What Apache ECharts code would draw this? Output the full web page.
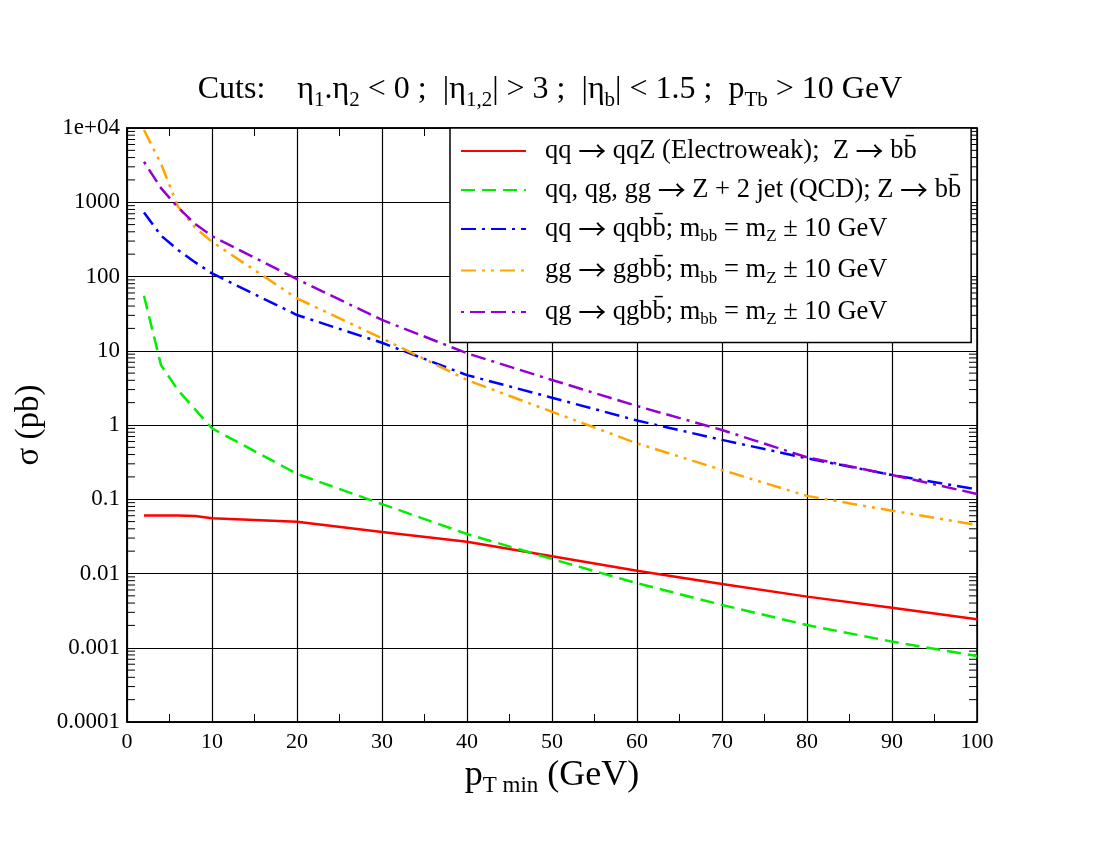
<!DOCTYPE html>
<html><head><meta charset="utf-8">
<script src="https://cdn.jsdelivr.net/npm/echarts@6/dist/echarts.min.js"></script>
<style>html,body{margin:0;padding:0;background:#fff}#c{width:1100px;height:850px}</style>
</head><body><div id="c"></div>
<script>
// ---- data ----
const ptMin = [2, 4, 6, 8, 10, 20, 30, 40, 50, 60, 70, 80, 90, 100];
const ewZbb   = [0.0605, 0.0604, 0.0602, 0.0594, 0.0553, 0.0499, 0.0362, 0.0267, 0.0171, 0.0109, 0.00723, 0.00488, 0.00346, 0.00242];
const qcdZbb  = [55, 6.4, 2.95, 1.63, 0.9, 0.22, 0.086, 0.034, 0.0157, 0.0074, 0.00377, 0.00202, 0.00121, 0.000775];
const qqQqbb  = [730, 355, 228, 156, 110, 30.3, 12.8, 4.7, 2.33, 1.15, 0.63, 0.356, 0.212, 0.136];
const ggGgbb  = [9400, 3300, 875, 458, 293, 50.8, 14.7, 4.04, 1.51, 0.566, 0.248, 0.111, 0.070, 0.045];
const qgQgbb  = [3510, 1550, 850, 513, 350, 92, 26, 9.25, 4.04, 1.80, 0.857, 0.367, 0.212, 0.118];

const seriesNames = [
  'qq → qqZ (Electroweak);  Z → bb̄',
  'qq, qg, gg → Z + 2 jet (QCD); Z → bb̄',
  'qq → qqbb̄; mbb = mZ ± 10 GeV',
  'gg → ggbb̄; mbb = mZ ± 10 GeV',
  'qg → qgbb̄; mbb = mZ ± 10 GeV'
];
const legendRich = [
  '{g|}{n|qq }{a|→}{n| qqZ (Electroweak);  Z }{a|→}{n| bb\u0304}',
  '{g|}{n|qq, qg, gg }{a|→}{n| Z + 2 jet (QCD); Z }{a|→}{n| bb\u0304}',
  '{g|}{n|qq }{a|→}{n| qqbb\u0304; m}{s|bb}{n| = m}{s|Z}{n| ± 10 GeV}',
  '{g|}{n|gg }{a|→}{n| ggbb\u0304; m}{s|bb}{n| = m}{s|Z}{n| ± 10 GeV}',
  '{g|}{n|qg }{a|→}{n| qgbb\u0304; m}{s|bb}{n| = m}{s|Z}{n| ± 10 GeV}'
];
const seriesColors = ['#ff0000', '#00ee00', '#0000ff', '#ffa500', '#9400d3'];
const seriesDash = ['solid', [14, 7], [15, 6, 3, 6], [15, 6, 3, 6, 3, 6], [3, 6, 15, 6, 15, 6]];
const seriesValues = [ewZbb, qcdZbb, qqQqbb, ggGgbb, qgQgbb];

const yTickLabels = ['0.0001', '0.001', '0.01', '0.1', '1', '10', '100', '1000', '1e+04'];
const yDecades = [-4, -3, -2, -1, 0, 1, 2, 3, 4];
const minorMultipliers = [2, 3, 4, 5, 6, 7, 8, 9];

// minor log tick positions (axis decoration)
const yMinorTicks = [];
yDecades.slice(0, -1).forEach(d => minorMultipliers.forEach(m => yMinorTicks.push([0, m * Math.pow(10, d)])));

const FONT = 'Liberation Serif';
const ARROWFONT = 'Noto Sans CJK SC';

const series = seriesValues.map((vals, i) => ({
  name: seriesNames[i],
  type: 'line',
  data: ptMin.map((x, j) => [x, vals[j]]),
  showSymbol: false,
  symbol: 'none',
  smooth: false,
  z: 5 + i,
  lineStyle: { color: seriesColors[i], width: 2.5, type: seriesDash[i] },
  itemStyle: { color: seriesColors[i] }
}));

series.push({
  name: 'minorTicks',
  type: 'custom',
  data: yMinorTicks,
  silent: true,
  z: 3,
  renderItem: function (params, api) {
    const cs = params.coordSys;
    const p = api.coord([0, api.value(1)]);
    const y = p[1];
    const len = 8;
    return {
      type: 'group',
      children: [
        { type: 'line', shape: { x1: cs.x, y1: y, x2: cs.x + len, y2: y }, style: { stroke: '#000', lineWidth: 1 } },
        { type: 'line', shape: { x1: cs.x + cs.width - len, y1: y, x2: cs.x + cs.width, y2: y }, style: { stroke: '#000', lineWidth: 1 } }
      ]
    };
  }
});

const chart = echarts.init(document.getElementById('c'), null, { renderer: 'canvas' });
chart.setOption({
  animation: false,
  backgroundColor: '#fff',
  textStyle: { fontFamily: FONT, color: '#000' },
  title: {
    left: 'center',
    top: 64,
    text: '{n|Cuts:    η}{s|1}{n|.η}{s|2}{n| < 0 ;  |η}{s|1,2}{n|| > 3 ;  |η}{s|b}{n|| < 1.5 ;  p}{s|Tb}{n| > 10 GeV}',
    textStyle: {
      fontWeight: 'normal',
      rich: {
        n: { fontFamily: FONT, fontSize: 32, fontWeight: 'normal', color: '#000', lineHeight: 42, verticalAlign: 'middle' },
        s: { fontFamily: FONT, fontSize: 21, fontWeight: 'normal', color: '#000', lineHeight: 42, verticalAlign: 'bottom' }
      }
    }
  },
  legend: {
    data: seriesNames,
    orient: 'vertical',
    left: 450,
    top: 128,
    itemWidth: 65,
    itemHeight: 14,
    itemGap: 11,
    padding: [9, 10, 14, 10],
    backgroundColor: '#fff',
    borderColor: '#000',
    borderWidth: 1.5,
    borderRadius: 0,
    z: 20,
    selectedMode: false,
    itemStyle: { opacity: 0, borderWidth: 0 },
    formatter: name => legendRich[seriesNames.indexOf(name)],
    textStyle: {
      rich: {
        g: { width: 14 },
        n: { fontFamily: FONT, fontSize: 26.5, color: '#000', lineHeight: 33, verticalAlign: 'middle' },
        a: { fontFamily: ARROWFONT, fontSize: 28, color: '#000', lineHeight: 33, verticalAlign: 'middle' },
        s: { fontFamily: FONT, fontSize: 17, color: '#000', lineHeight: 33, verticalAlign: 'bottom' }
      }
    }
  },
  grid: {
    left: 127, top: 128, width: 850, height: 594,
    show: true, borderColor: '#000', borderWidth: 1.5, backgroundColor: 'transparent'
  },
  xAxis: [{
    type: 'value', min: 0, max: 100, interval: 10,
    name: '{n|p}{s|T min}{n| (GeV)}',
    nameLocation: 'middle', nameGap: 28,
    nameTextStyle: {
      rich: {
        n: { fontFamily: FONT, fontSize: 36, color: '#000', lineHeight: 44, verticalAlign: 'middle' },
        s: { fontFamily: FONT, fontSize: 23, color: '#000', lineHeight: 44, verticalAlign: 'bottom' }
      }
    },
    axisLine: { show: true, lineStyle: { color: '#000', width: 1.5 } },
    axisTick: { show: true, inside: true, length: 8, lineStyle: { color: '#000' } },
    minorTick: { show: true, splitNumber: 2, length: 8, lineStyle: { color: '#000', width: 1 } },
    axisLabel: { fontFamily: FONT, fontSize: 22, color: '#000', margin: 9 },
    splitLine: { show: true, lineStyle: { color: '#000', width: 1.2 } }
  }, {
    type: 'value', min: 0, max: 100, interval: 10, position: 'top',
    axisLine: { show: true, lineStyle: { color: '#000', width: 1.5 } },
    axisTick: { show: true, inside: true, length: 8, lineStyle: { color: '#000' } },
    minorTick: { show: true, splitNumber: 2, length: 8, lineStyle: { color: '#000', width: 1 } },
    axisLabel: { show: false },
    splitLine: { show: false }
  }],
  yAxis: [{
    type: 'log', logBase: 10, min: 1e-4, max: 1e4, splitNumber: 8,
    name: 'σ (pb)',
    nameLocation: 'middle', nameGap: 70, nameRotate: 90,
    nameTextStyle: { fontFamily: FONT, fontSize: 33, color: '#000' },
    axisLine: { show: true, lineStyle: { color: '#000', width: 1.5 } },
    axisTick: { show: false },
    axisLabel: {
      fontFamily: FONT, fontSize: 23, color: '#000', margin: 7,
      formatter: v => {
        const d = Math.round(Math.log10(v));
        const k = yDecades.indexOf(d);
        return k >= 0 ? yTickLabels[k] : '';
      }
    },
    splitLine: { show: true, lineStyle: { color: '#000', width: 1.2 } }
  }],
  series: series
});
</script>
</body></html>
